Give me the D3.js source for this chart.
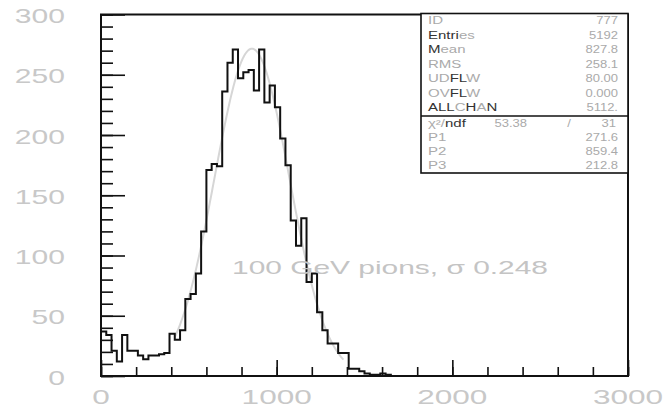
<!DOCTYPE html>
<html>
<head>
<meta charset="utf-8">
<script src="https://cdn.jsdelivr.net/npm/d3@7"></script>
<style>
    body { margin: 0; background: #fff; }
    text { font-family: "Liberation Sans", Arial, sans-serif; }
</style>
</head>
<body>
<div id="canvas"></div>
<script>
// histogram: 100 bins of width 30 between 0 and 3000
let binWidth = 30
let counts = [
    37, 34, 21, 12, 34, 21, 21, 17, 14, 17,
    17, 18, 19, 35, 30, 38, 64, 68, 85, 120,
    171, 176, 174, 236, 260, 271, 247, 252, 254, 237,
    271, 227, 241, 223, 197, 175, 129, 108, 131, 78,
    85, 53, 38, 27, 27, 19, 19, 6, 6, 4,
    2, 1, 1, 2, 1, 0, 0, 0, 0, 0,
    0, 0, 0, 0, 0, 0, 0, 0, 0, 0,
    0, 0, 0, 0, 0, 0, 0, 0, 0, 0,
    0, 0, 0, 0, 0, 0, 0, 0, 0, 0,
    0, 0, 0, 0, 0, 0, 0, 0, 0, 0
]

let xLabels = [0, 1000, 2000, 3000]
let yLabels = [0, 50, 100, 150, 200, 250, 300]

// stats box
let statNames = ['ID', 'Entries', 'Mean', 'RMS', 'UDFLW', 'OVFLW', 'ALLCHAN']
let statValues = ['777', '5192', '827.8', '258.1', '80.00', '0.000', '5112.']
let chi2 = '53.38'
let ndf = '31'
let parNames = ['P1', 'P2', 'P3']
let parValues = [271.6, 859.4, 212.8]
let fitRange = [420, 1380]

let title = '100 GeV pions, \u03c3 0.248'

let width = 672
let height = 407
let svg = d3.select('#canvas').append('svg')
    .attr('width', width)
    .attr('height', height)

let x = d3.scaleLinear().domain([0, 3000]).range([101, 628])
let y = d3.scaleLinear().domain([0, 300]).range([376, 14.5])

// stretch text horizontally, the original font is wide
function widen(sel, k, anchor) {
    sel.each(function () {
        let t = d3.select(this)
        let w = this.getComputedTextLength()
        t.attr('textLength', w * k).attr('lengthAdjust', 'spacingAndGlyphs')
        if (anchor === 'end') t.attr('x', +t.attr('x') - w * k)
        if (anchor === 'middle') t.attr('x', +t.attr('x') - w * k / 2)
    })
}

// fit function from the fitted parameters
let gauss = (v) => parValues[0] * Math.exp(-0.5 * Math.pow((v - parValues[1]) / parValues[2], 2))
let fitPts = d3.range(fitRange[0], fitRange[1] + 1, 5)
svg.append('path')
    .attr('d', d3.line().x((d) => x(d)).y((d) => y(gauss(d)))(fitPts))
    .attr('fill', 'none')
    .attr('stroke', '#d6d6d6')
    .attr('stroke-width', 2)

// histogram outline
let pts = counts.map((c, i) => [i * binWidth, c])
pts.push([counts.length * binWidth, counts[counts.length - 1]])
svg.append('path')
    .attr('d', d3.line().x((d) => x(d[0])).y((d) => y(d[1])).curve(d3.curveStepAfter)(pts))
    .attr('fill', 'none')
    .attr('stroke', '#111')
    .attr('stroke-width', 2)

// ticks, pointing inside the frame
let tickStyle = function (g) {
    g.select('.domain').remove()
    g.selectAll('line').attr('stroke', '#111').attr('stroke-width', 1.6)
}
svg.append('g').attr('transform', 'translate(' + x(0) + ',0)')
    .call(d3.axisRight(y).tickValues(d3.range(0, 301, 10)).tickSize(12).tickFormat(''))
    .call(tickStyle)
svg.append('g').attr('transform', 'translate(' + x(0) + ',0)')
    .call(d3.axisRight(y).tickValues(yLabels).tickSize(24).tickFormat(''))
    .call(tickStyle)
svg.append('g').attr('transform', 'translate(0,' + y(0) + ')')
    .call(d3.axisTop(x).tickValues(d3.range(0, 3001, 200)).tickSize(9).tickFormat(''))
    .call(tickStyle)
svg.append('g').attr('transform', 'translate(0,' + y(0) + ')')
    .call(d3.axisTop(x).tickValues(xLabels).tickSize(16).tickFormat(''))
    .call(tickStyle)

// frame
svg.append('rect')
    .attr('x', x(0)).attr('y', y(300))
    .attr('width', x(3000) - x(0)).attr('height', y(0) - y(300))
    .attr('fill', 'none')
    .attr('stroke', '#111')
    .attr('stroke-width', 2)

// axis labels
let labelColor = '#c8c8c8'
svg.append('g').selectAll('text')
    .data(yLabels)
    .enter()
    .append('text')
    .attr('x', 65)
    .attr('y', (d) => y(d) + 8.5)
    .attr('font-size', 21)
    .attr('fill', labelColor)
    .text((d) => d)
    .call(widen, 1.43, 'end')

svg.append('g').selectAll('text')
    .data(xLabels)
    .enter()
    .append('text')
    .attr('x', (d) => x(d))
    .attr('y', 404)
    .attr('font-size', 21)
    .attr('fill', labelColor)
    .text((d) => d)
    .call(widen, 1.5, 'middle')

// label in the plot
svg.append('text')
    .attr('x', 232)
    .attr('y', 274)
    .attr('font-size', 18.5)
    .attr('fill', '#c4c4c4')
    .attr('textLength', 316)
    .attr('lengthAdjust', 'spacingAndGlyphs')
    .text(title)

// stats box
let box = svg.append('g')
box.append('rect')
    .attr('x', 421).attr('y', 13.5)
    .attr('width', 207).attr('height', 159.5)
    .attr('fill', '#fff')
    .attr('stroke', '#111')
    .attr('stroke-width', 1.6)
box.append('line')
    .attr('x1', 421).attr('x2', 628)
    .attr('y1', 116).attr('y2', 116)
    .attr('stroke', '#111')
    .attr('stroke-width', 1.4)

// some letters come out dark in the original
let dark = {
    'Entries': [0, 1, 2, 3, 4],
    'Mean': [0],
    'UDFLW': [2, 3],
    'OVFLW': [2, 3],
    'ALLCHAN': [0, 1, 2, 4, 6]
}
let statColor = '#aaaaaa'
let darkColor = '#333'

box.selectAll('text.name')
    .data(statNames)
    .enter()
    .append('text')
    .attr('class', 'name')
    .attr('x', 428)
    .attr('y', (d, i) => 24 + i * 14.5)
    .attr('font-size', 10)
    .attr('fill', statColor)
    .each(function (d) {
        let t = d3.select(this)
        let dk = dark[d] || []
        d.split('').forEach(function (ch, j) {
            t.append('tspan')
                .attr('fill', dk.indexOf(j) >= 0 ? darkColor : statColor)
                .text(ch)
        })
    })
    .call(widen, 1.5)

box.selectAll('text.value')
    .data(statValues)
    .enter()
    .append('text')
    .attr('class', 'value')
    .attr('x', 618)
    .attr('y', (d, i) => 24 + i * 14.5)
    .attr('font-size', 10)
    .attr('fill', statColor)
    .text((d) => d)
    .call(widen, 1.3, 'end')

// fit section
let chiRow = box.append('text')
    .attr('x', 428)
    .attr('y', 126.5)
    .attr('font-size', 10)
    .attr('fill', statColor)
chiRow.append('tspan').text('\u03c7\u00b2/')
chiRow.append('tspan').attr('fill', darkColor).text('ndf')
chiRow.call(widen, 1.5)

box.append('text')
    .attr('x', 527).attr('y', 126.5)
    .attr('font-size', 10).attr('fill', statColor)
    .text(chi2)
    .call(widen, 1.3, 'end')
box.append('text')
    .attr('x', 569).attr('y', 126.5)
    .attr('font-size', 10).attr('fill', statColor)
    .text('/')
    .call(widen, 1.3, 'middle')
box.append('text')
    .attr('x', 616).attr('y', 126.5)
    .attr('font-size', 10).attr('fill', statColor)
    .text(ndf)
    .call(widen, 1.3, 'end')

box.selectAll('text.par')
    .data(parNames)
    .enter()
    .append('text')
    .attr('class', 'par')
    .attr('x', 428)
    .attr('y', (d, i) => 140.5 + i * 14)
    .attr('font-size', 10)
    .attr('fill', statColor)
    .text((d) => d)
    .call(widen, 1.5)

box.selectAll('text.parval')
    .data(parValues)
    .enter()
    .append('text')
    .attr('class', 'parval')
    .attr('x', 618)
    .attr('y', (d, i) => 140.5 + i * 14)
    .attr('font-size', 10)
    .attr('fill', statColor)
    .text((d) => d.toFixed(1))
    .call(widen, 1.3, 'end')
</script>
</body>
</html>
